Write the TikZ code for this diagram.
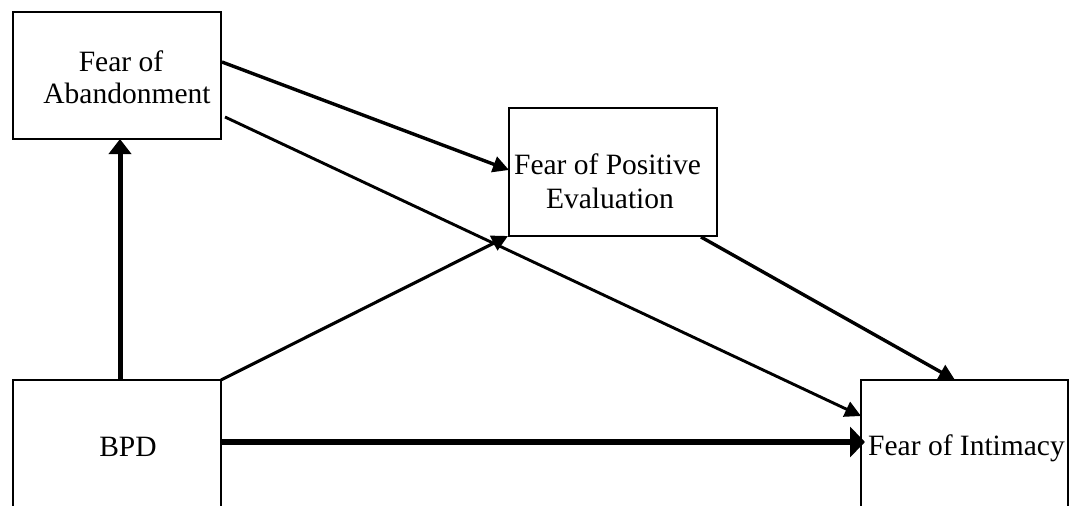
\documentclass[tikz,border=0pt]{standalone}
\usepackage{fontspec}
\setmainfont{Liberation Serif}
\usetikzlibrary{arrows.meta,calc}
\tikzset{
  box/.style={draw, line width=1.6pt, inner sep=0pt, outer sep=0pt, rectangle},
  lbl/.style={inner sep=0pt, anchor=base, font=\fontsize{29.5}{33}\selectfont},
  conn/.style={line width=3.4pt, -{Triangle[length=16pt,width=16pt]}},
  thick1/.style={line width=5pt, -{Triangle[length=15pt,width=22pt]}},
  thick2/.style={line width=6pt, -{Triangle[length=15pt,width=30pt]}},
}
\begin{document}
\begin{tikzpicture}[x=1pt,y=-1pt]
\clip (0,0) rectangle (1069,506);
\fill[white] (0,0) rectangle (1069,506);
% boxes
\node[box, minimum width=208pt, minimum height=127pt] (foa) at (117,75.5) {};
\node[box, minimum width=208pt, minimum height=128pt] (fpe) at (613,172) {};
\node[box, minimum width=208pt, minimum height=150pt] (bpd) at (117,455) {};
\node[box, minimum width=207pt, minimum height=150pt] (foi) at (964.5,455) {};
% labels
\node[lbl] (foa1) at (121,71) {Fear of};
\node[lbl] (foa2) at (127,103) {Abandonment};
\node[lbl] (fpe1) at (607.5,174) {Fear of Positive};
\node[lbl] (fpe2) at (610,208) {Evaluation};
\node[lbl] (bpd1) at (128,456) {BPD};
\node[lbl] (foi1) at (966.5,455) {Fear of Intimacy};
% connectors
\draw[thick1] ($(bpd.north west)+(107,0)$) -- ($(foa.south west)+(107,0)$);
\draw[thick2] ($(bpd.north east)+(0,62)$) -- ($(foi.north west)+(4,62)$);
\draw[conn] ($(foa.north east)+(1,50)$) -- ($(fpe.north west)+(0,62)$);
\draw[conn,line width=2.9pt] ($(foa.north east)+(4,105)$) -- ($(foi.north west)+(0,36)$);
\draw[conn,line width=3.1pt] (bpd.north east) -- ($(fpe.south west)+(-1,0)$);
\draw[conn] ($(fpe.south east)+(-16,1)$) -- ($(foi.north west)+(94,0)$);
\end{tikzpicture}
\end{document}
